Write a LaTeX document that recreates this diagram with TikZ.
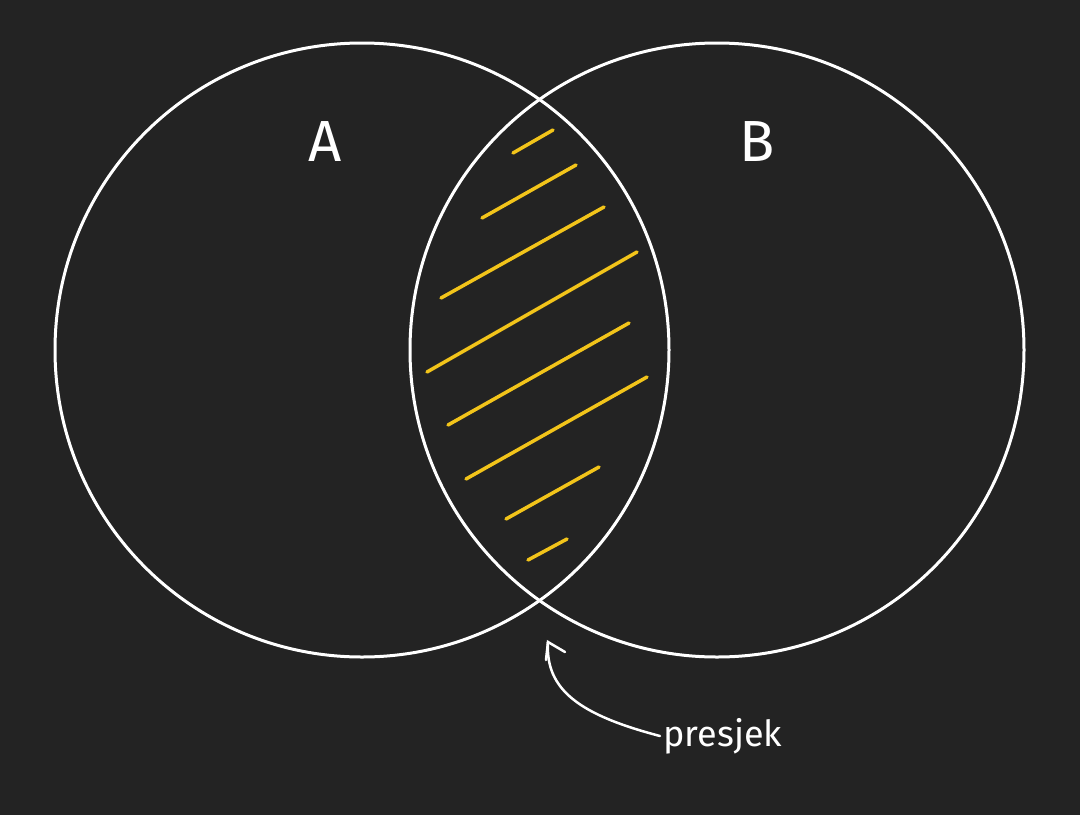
\documentclass[tikz,border=0pt]{standalone}
\usepackage{fontspec}
\setmainfont{Fira Sans}
\definecolor{bg}{HTML}{232323}
\definecolor{hatch}{HTML}{F2C41A}
\begin{document}
\begin{tikzpicture}[x=1pt,y=-1pt,
  setc/.style={draw=white,line width=3pt},
  hl/.style={draw=hatch,line width=3.5pt,line cap=round},
  lbl/.style={text=white,font=\fontsize{58}{60}\selectfont},
  note/.style={text=white,font=\fontsize{36}{40}\selectfont}]
\fill[bg] (0,0) rectangle (1080,815);
\useasboundingbox (0,0) rectangle (1080,815);
\node[setc,circle,minimum size=614pt,inner sep=0pt] (ca) at (362,350) {};
\node[setc,circle,minimum size=614pt,inner sep=0pt] (cb) at (717,350) {};
\node[lbl] (la) at (325,142) {A};
\node[lbl] (lb) at (757,142) {B};
\draw[hl] (513,153)--(553,130);
\draw[hl] (482,218)--(576,165);
\draw[hl] (441,298)--(604,207);
\draw[hl] (427,372)--(637,252);
\draw[hl] (448,425)--(629,323);
\draw[hl] (466,479)--(647,377);
\draw[hl] (506,519)--(599,467);
\draw[hl] (528,560)--(567,539);
\node[note,anchor=west] (t) at (660,736) {presjek};
\coordinate (tip) at (548,642);
\draw[white,line width=2.5pt,line cap=round] (t.west) .. controls (580,715) and (545,690) .. (tip);
\draw[white,line width=2.5pt,line cap=round] (546,660) -- (tip) -- (565,652);
\end{tikzpicture}
\end{document}
